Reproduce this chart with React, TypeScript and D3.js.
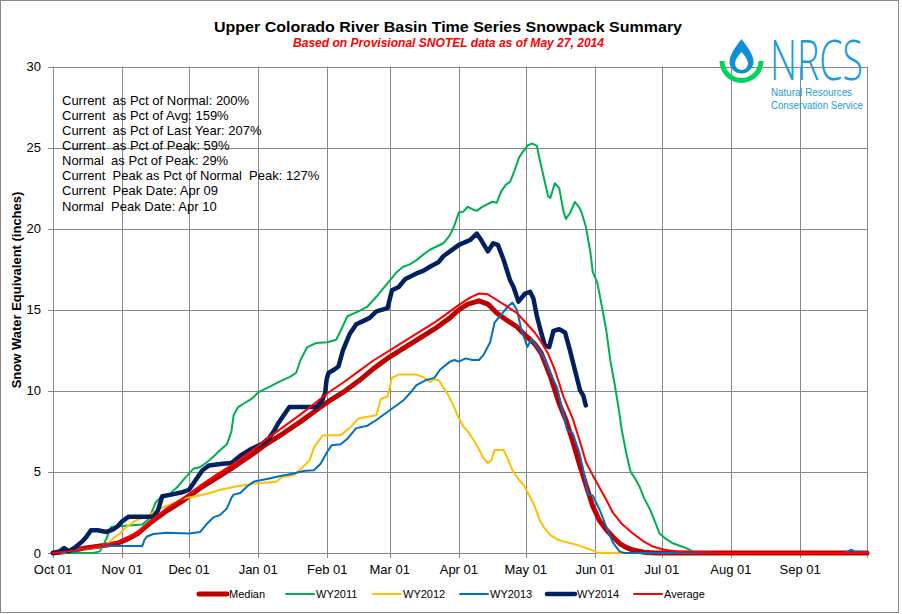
import React from 'react';
import * as d3 from 'd3';

// ---- Data (day offset from Oct 01 2013, SWE inches) ----
const medianData: [number, number][] = [[0,0],[7,0.1],[14,0.3],[22,0.45],[29,0.6],[34,0.9],[38,1.2],[44,1.9],[51,2.6],[58,3.2],[61,3.5],[66,4.0],[73,4.6],[81,5.3],[88,5.95],[92,6.35],[96,6.75],[103,7.35],[111,8.1],[118,8.8],[123,9.3],[130,9.9],[137,10.6],[144,11.4],[151,12.1],[158,12.7],[165,13.3],[172,13.9],[178,14.5],[182,15.0],[186,15.35],[191,15.55],[195,15.35],[199,14.8],[203,14.4],[208,13.95],[212,13.4],[216,12.9],[219,12.3],[223,10.9],[227,9.2],[230,8.2],[233,6.9],[236,5.5],[239,4.2],[242,2.9],[245,2.0],[248,1.45],[251,1.0],[254,0.6],[257,0.35],[260,0.18],[265,0.05],[270,0],[365,0]];

const wy2011Data: [number, number][] = [[0,0],[18,0],[21,0.1],[24,0.9],[26,1.6],[30,1.65],[34,1.7],[40,1.75],[43,2.1],[46,3.1],[48,3.4],[52,3.6],[56,4.1],[59,4.6],[63,5.2],[66,5.3],[69,5.6],[72,5.95],[75,6.35],[78,6.7],[80,7.5],[81,8.5],[83,9.0],[86,9.25],[89,9.5],[92,9.9],[97,10.25],[102,10.6],[106,10.85],[109,11.1],[111,11.9],[114,12.7],[118,12.95],[123,13.0],[127,13.15],[130,14.0],[132,14.6],[137,14.9],[141,15.2],[145,15.8],[148,16.3],[151,16.8],[154,17.3],[157,17.65],[160,17.8],[163,18.06],[166,18.4],[169,18.7],[172,18.9],[175,19.1],[178,19.6],[180,20.2],[182,21.0],[184,21.05],[186,21.35],[188,21.2],[190,21.1],[192,21.3],[194,21.45],[197,21.66],[199,21.6],[201,22.3],[203,22.7],[205,22.9],[207,23.6],[209,24.4],[211,24.8],[213,25.15],[215,25.25],[217,25.1],[218,24.4],[220,23.2],[222,22.0],[223,21.9],[225,22.8],[227,22.5],[229,21.0],[230,20.6],[232,21.0],[234,21.65],[236,21.3],[237,21.0],[239,20.1],[241,18.5],[242,17.35],[244,16.7],[246,15.3],[248,13.8],[250,11.8],[252,10.3],[254,8.6],[255,7.6],[257,6.2],[259,5.0],[261,4.6],[263,4.1],[265,3.4],[268,2.6],[270,1.9],[272,1.2],[275,0.85],[278,0.6],[281,0.45],[284,0.3],[287,0.08],[290,0],[365,0]];

const wy2012Data: [number, number][] = [[0,0],[5,0.1],[8,0.3],[12,0.2],[20,0.35],[24,0.5],[27,0.9],[30,1.2],[33,1.6],[37,2.0],[42,2.25],[45,2.5],[48,2.75],[54,3.05],[58,3.35],[64,3.5],[70,3.68],[75,3.9],[82,4.1],[91,4.3],[100,4.4],[103,4.7],[108,4.8],[112,5.3],[115,5.7],[117,6.5],[119,6.9],[121,7.25],[129,7.27],[133,7.7],[137,8.3],[141,8.4],[145,8.5],[147,9.5],[150,9.65],[152,10.8],[155,11.0],[163,11.0],[166,10.85],[169,10.55],[171,10.7],[173,10.65],[175,10.2],[177,9.8],[179.5,9.1],[182,8.3],[184,7.8],[186,7.5],[188.5,7.0],[191,6.4],[193,5.84],[195,5.55],[196.5,5.7],[198,6.35],[202,6.35],[204,5.8],[206,5.1],[209,4.5],[211,4.2],[213,3.7],[216,2.9],[218,2.1],[220,1.6],[223,1.1],[226,0.85],[229,0.7],[232,0.6],[235,0.5],[238,0.35],[241,0.22],[243,0.1],[244,0],[365,0]];

const wy2013Data: [number, number][] = [[0,0],[10,0.1],[16,0.3],[24,0.43],[40,0.43],[41,0.8],[42,1.0],[45,1.17],[51,1.25],[61,1.2],[66,1.3],[69,1.8],[72,2.2],[75,2.35],[78,2.75],[80,3.4],[81,3.6],[84,3.7],[87,4.1],[90,4.4],[97,4.6],[102,4.75],[108,4.9],[112,5.05],[117,5.1],[120,5.5],[123,6.25],[125,6.65],[129,6.7],[132,7.05],[136,7.7],[141,7.85],[145,8.2],[151,8.8],[157,9.4],[160,9.85],[163,10.35],[167,10.65],[171,10.8],[173.5,11.3],[178,11.8],[180,11.9],[182,11.8],[185,12.0],[188,11.9],[191,11.9],[193,12.2],[196,13.0],[198,14.2],[201,14.7],[204,15.2],[206,15.45],[208,15.0],[210,13.8],[212.7,12.7],[214.6,13.2],[217,12.7],[220,12.1],[223,11.1],[226,10.2],[229,8.5],[230.5,7.6],[233,7.4],[236,6.2],[238,5.0],[240,3.6],[242,3.55],[245,2.7],[248,1.65],[251,0.65],[254,0.1],[256,0],[355,0],[358,0.2],[360,0.05],[365,0.05]];

const wy2014Data: [number, number][] = [[0,0],[3,0.1],[5,0.3],[7,0.1],[10,0.35],[13,0.7],[15,1.0],[17,1.4],[20,1.4],[24,1.3],[27,1.45],[29,1.65],[31,1.95],[34,2.24],[45,2.24],[47,2.6],[49,3.5],[53,3.6],[58,3.75],[61,3.9],[63,4.3],[65,4.7],[67,5.1],[70,5.4],[76,5.5],[80,5.55],[84,6.0],[88,6.35],[94,6.75],[97,7.1],[99,7.5],[101,8.0],[103,8.4],[106,9.0],[118,9.0],[120.5,9.35],[122,9.85],[122.7,10.7],[123.5,11.1],[126,11.3],[128,11.5],[130,12.5],[133,13.5],[136,14.1],[139,14.3],[142,14.5],[145,14.9],[150,15.1],[152,16.2],[155,16.4],[158,16.9],[163,17.24],[166,17.4],[169,17.65],[173,17.95],[175,18.3],[178,18.6],[182,19.0],[187,19.3],[190,19.7],[192,19.3],[195,18.6],[197.4,19.1],[199.5,19.0],[202,18.1],[205,16.8],[206.5,16.4],[208.7,15.5],[211.7,16.0],[214,16.1],[215.4,15.7],[217,14.6],[218.5,13.8],[220.5,12.8],[222.5,12.7],[224.4,13.7],[227,13.8],[229.6,13.6],[231.8,12.5],[234,11.3],[236.3,10.05],[237.8,9.7],[238.9,9.1]];

const averageData: [number, number][] = [[0,0],[7,0.1],[14,0.25],[22,0.45],[29,0.7],[34,1.0],[38,1.3],[44,2.0],[51,2.75],[58,3.35],[61,3.65],[66,4.15],[73,4.8],[81,5.5],[88,6.2],[92,6.6],[96,7.05],[103,7.75],[111,8.55],[118,9.3],[123,9.85],[130,10.5],[137,11.2],[144,11.9],[151,12.5],[158,13.1],[165,13.7],[172,14.3],[178,14.9],[182,15.3],[187,15.75],[191,16.0],[195,15.95],[199,15.6],[203,15.25],[208,14.8],[212,14.2],[216,13.6],[219,13.0],[222,12.3],[225,11.3],[229,9.6],[233,8.3],[236,7.0],[239,5.6],[242,4.8],[244,4.3],[248,3.3],[251,2.5],[255,1.8],[260,1.2],[265,0.7],[269,0.4],[274,0.2],[280,0.1],[290,0.05],[300,0],[365,0]];

const seriesNames = ['Median', 'WY2011', 'WY2012', 'WY2013', 'WY2014', 'Average'];
const seriesColors = ['#C00000', '#00B050', '#FFC000', '#0070C0', '#002060', '#FF0000'];
const seriesWidths = [5, 2, 2, 2, 4.5, 2];
const seriesValues = [medianData, wy2011Data, wy2012Data, wy2013Data, wy2014Data, averageData];

const yTicks = [0, 5, 10, 15, 20, 25, 30];
const statsLines = [
  'Current  as Pct of Normal: 200%',
  'Current  as Pct of Avg: 159%',
  'Current  as Pct of Last Year: 207%',
  'Current  as Pct of Peak: 59%',
  'Normal  as Pct of Peak: 29%',
  'Current  Peak as Pct of Normal  Peak: 127%',
  'Current  Peak Date: Apr 09',
  'Normal  Peak Date: Apr 10',
];
const titleText = 'Upper Colorado River Basin Time Series Snowpack Summary';
const subtitleText = 'Based on Provisional SNOTEL data as of May 27, 2014';
const yLabelText = 'Snow Water Equivalent (inches)';

const W = 902, H = 614;
const FONT = "'Liberation Sans', Arial, sans-serif";
const GRID = '#868686';

export default function App() {
  const start = Date.UTC(2013, 9, 1);
  const end = Date.UTC(2014, 9, 1);
  const x = d3.scaleUtc().domain([new Date(start), new Date(end)]).range([53, 867]);
  const y = d3.scaleLinear().domain([0, 30]).range([553, 66.5]);
  const dayToDate = (d: number) => new Date(start + d * 86400000);
  const line = d3.line<[number, number]>().x(p => x(dayToDate(p[0]))).y(p => y(p[1]));
  const monthTicks = d3.utcMonth.range(new Date(start), new Date(end + 1));
  const fmt = d3.utcFormat('%b %d');

  const arc = d3.arc()({ innerRadius: 17, outerRadius: 22, startAngle: Math.PI / 2, endAngle: Math.PI * 1.5 } as any) as string;

  return (
    <svg width={W} height={H} style={{ position: 'absolute', left: 0, top: 0, background: '#fff' }} fontFamily={FONT}>
      <rect x={0} y={0} width={W} height={H} fill="#fff" />
      <rect x={0.5} y={0.5} width={898} height={612} fill="none" stroke={GRID} strokeWidth={1} />

      {/* gridlines */}
      {yTicks.map(t => (
        <line key={'h' + t} x1={48} x2={867} y1={Math.round(y(t)) + 0.5} y2={Math.round(y(t)) + 0.5} stroke={GRID} strokeWidth={1} />
      ))}
      {monthTicks.map((d, i) => (
        <line key={'v' + i} x1={Math.round(x(d)) + 0.5} x2={Math.round(x(d)) + 0.5} y1={66.5} y2={558} stroke={GRID} strokeWidth={1} />
      ))}

      {/* y tick labels */}
      {yTicks.map(t => (
        <text key={'yl' + t} x={41} y={y(t)} dy="0.35em" textAnchor="end" fontSize={13} fill="#000">{t}</text>
      ))}
      {/* x tick labels */}
      {monthTicks.slice(0, 12).map((d, i) => (
        <text key={'xl' + i} x={x(d)} y={574} textAnchor="middle" fontSize={13} fill="#000">{fmt(d)}</text>
      ))}

      {/* series */}
      {seriesValues.map((data, i) => (
        <path key={seriesNames[i]} d={line(data) as string} fill="none" stroke={seriesColors[i]} strokeWidth={seriesWidths[i]} strokeLinejoin="round" strokeLinecap="round" />
      ))}

      {/* stats text */}
      {statsLines.map((s, i) => (
        <text key={'s' + i} x={62} y={104.5 + i * 15.15} fontSize={13} fill="#000" style={{ whiteSpace: 'pre' }}>{s}</text>
      ))}

      {/* titles */}
      <text x={448} y={32} textAnchor="middle" fontSize={15.5} fontWeight="bold" fill="#000" textLength={468} lengthAdjust="spacingAndGlyphs">{titleText}</text>
      <text x={448.5} y={47} textAnchor="middle" fontSize={12} fontWeight="bold" fontStyle="italic" fill="#FF0000" textLength={311} lengthAdjust="spacingAndGlyphs">{subtitleText}</text>
      <text transform={`translate(21,290) rotate(-90)`} textAnchor="middle" fontSize={13} fontWeight="bold" fill="#000">{yLabelText}</text>

      {/* legend */}
      {seriesNames.map((n, i) => {
        const lx = 199 + i * 87;
        return (
          <g key={'lg' + n}>
            <line x1={lx} x2={lx + 28} y1={594} y2={594} stroke={seriesColors[i]} strokeWidth={seriesWidths[i]} strokeLinecap="round" />
            <text x={lx + 30} y={598} fontSize={11} fill="#000">{n}</text>
          </g>
        );
      })}

      {/* NRCS logo */}
      <g>
        <path d={arc} transform="translate(741.5,61)" fill="#00D45A" />
        <path d="M741.5,39 Q729.5,54 729.5,61.5 A12,12 0 0,0 753.5,61.5 Q753.5,54 741.5,39 Z" fill="#0E8FD8" />
        <path d="M741.5,52 Q735,59 735,63.5 A6.5,6.5 0 0,0 748,63.5 Q748,59 741.5,52 Z" fill="#fff" />
        <text x={770} y={80} fontSize={56} fontWeight={300} fill="#1A9BE0" textLength={93} lengthAdjust="spacingAndGlyphs" fontFamily="'Liberation Sans Narrow', 'Open Sans', sans-serif">NRCS</text>
        <text x={771} y={96} fontSize={11} fill="#1A9BE0" textLength={81} lengthAdjust="spacingAndGlyphs">Natural Resources</text>
        <text x={771} y={108.5} fontSize={11} fill="#1A9BE0" textLength={92} lengthAdjust="spacingAndGlyphs">Conservation Service</text>
      </g>
    </svg>
  );
}
